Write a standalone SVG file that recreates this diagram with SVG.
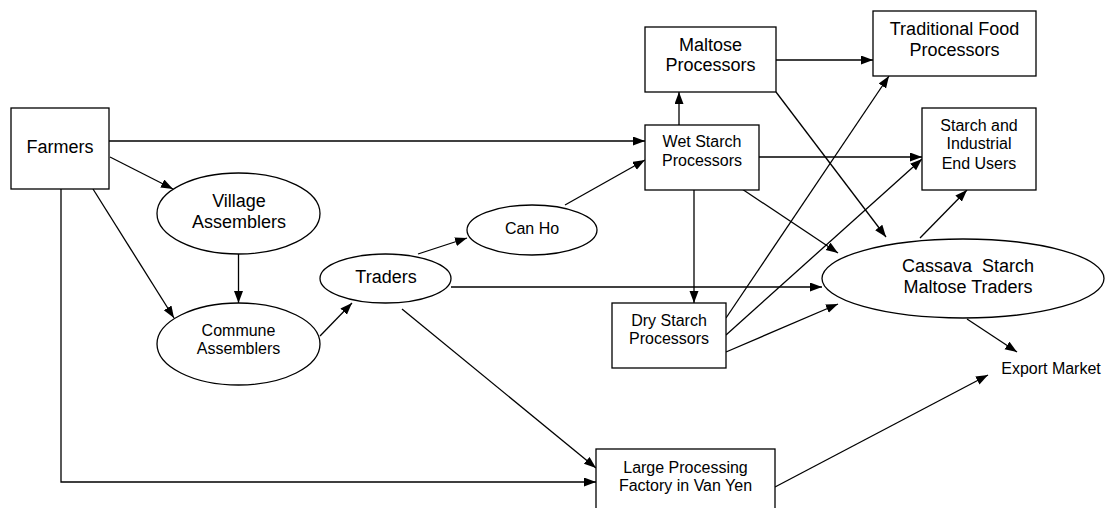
<svg xmlns="http://www.w3.org/2000/svg" width="1107" height="508" viewBox="0 0 1107 508">
<style>
.n{fill:#fff;stroke:#000;stroke-width:1.3}
.t{font-family:"Liberation Sans",Arial,sans-serif;fill:#000;text-anchor:middle}
.l{font-size:18px}
.s{font-size:16px}
.c{fill:none;stroke:#000;stroke-width:1.3}
</style>
<defs>
<marker id="a" markerUnits="userSpaceOnUse" markerWidth="13" markerHeight="10" refX="12" refY="4.5" orient="auto">
<path d="M0,0 L12,4.5 L0,9 z" fill="#000"/>
</marker>
</defs>
<rect width="1107" height="508" fill="#fff"/>
<g id="connectors">
<path class="c" d="M109,141 H645" marker-end="url(#a)"/>
<path class="c" d="M110,157 L173,189" marker-end="url(#a)"/>
<path class="c" d="M93,189 L174,318" marker-end="url(#a)"/>
<path class="c" d="M61,189 V482 H596" marker-end="url(#a)"/>
<path class="c" d="M238.5,254 V303" marker-end="url(#a)"/>
<path class="c" d="M320,336 L352,303" marker-end="url(#a)"/>
<path class="c" d="M418,254 L467,238" marker-end="url(#a)"/>
<path class="c" d="M451,287 H822" marker-end="url(#a)"/>
<path class="c" d="M402,309 L596,468" marker-end="url(#a)"/>
<path class="c" d="M565,205 L645,160" marker-end="url(#a)"/>
<path class="c" d="M679,125 V92" marker-end="url(#a)"/>
<path class="c" d="M776,60 H873" marker-end="url(#a)"/>
<path class="c" d="M776,92 L886,237" marker-end="url(#a)"/>
<path class="c" d="M759,157 H922" marker-end="url(#a)"/>
<path class="c" d="M694,190 V303" marker-end="url(#a)"/>
<path class="c" d="M742,189 L838,253" marker-end="url(#a)"/>
<path class="c" d="M726,318 L889,76" marker-end="url(#a)"/>
<path class="c" d="M726,335 L922,159" marker-end="url(#a)"/>
<path class="c" d="M726,352 L838,304" marker-end="url(#a)"/>
<path class="c" d="M920,238 L967,190" marker-end="url(#a)"/>
<path class="c" d="M967,319 L1017,352" marker-end="url(#a)"/>
<path class="c" d="M775,487 L988,375" marker-end="url(#a)"/>
</g>
<g id="farmers">
<rect class="n" x="11" y="108" width="98" height="81"/>
<text class="t l" x="60" y="153">Farmers</text>
</g>
<g id="village-assemblers">
<ellipse class="n" cx="238.5" cy="213.5" rx="81.5" ry="40.5"/>
<text class="t l" x="239" y="207">Village</text>
<text class="t l" x="239" y="228">Assemblers</text>
</g>
<g id="commune-assemblers">
<ellipse class="n" cx="238.5" cy="344" rx="81.5" ry="41"/>
<text class="t s" x="238.5" y="335.5">Commune</text>
<text class="t s" x="238.5" y="353.5">Assemblers</text>
</g>
<g id="traders">
<ellipse class="n" cx="385.5" cy="278.5" rx="65.5" ry="24.5"/>
<text class="t l" x="386" y="283">Traders</text>
</g>
<g id="can-ho">
<ellipse class="n" cx="532" cy="230" rx="65" ry="25"/>
<text class="t s" x="532" y="233.5">Can Ho</text>
</g>
<g id="wet-starch">
<rect class="n" x="645" y="125" width="114" height="65"/>
<text class="t s" x="702" y="146.5">Wet Starch</text>
<text class="t s" x="702" y="165.5">Processors</text>
</g>
<g id="maltose-processors">
<rect class="n" x="645" y="27" width="131" height="65"/>
<text class="t l" x="710.5" y="51">Maltose</text>
<text class="t l" x="710.5" y="71">Processors</text>
</g>
<g id="traditional-food">
<rect class="n" x="873" y="11" width="163" height="65"/>
<text class="t l" x="954.5" y="35">Traditional Food</text>
<text class="t l" x="954.5" y="56">Processors</text>
</g>
<g id="starch-industrial">
<rect class="n" x="922" y="108" width="114" height="82"/>
<text class="t s" x="979" y="131">Starch and</text>
<text class="t s" x="979" y="149">Industrial</text>
<text class="t s" x="979" y="168.5">End Users</text>
</g>
<g id="cassava-traders">
<ellipse class="n" cx="963" cy="278.5" rx="141" ry="39.5"/>
<text class="t l" x="968" y="272" xml:space="preserve">Cassava  Starch</text>
<text class="t l" x="968" y="293">Maltose Traders</text>
</g>
<g id="dry-starch">
<rect class="n" x="612" y="303" width="114" height="65"/>
<text class="t s" x="669" y="325.5">Dry Starch</text>
<text class="t s" x="669" y="343.5">Processors</text>
</g>
<g id="export-market">
<text class="t s" x="1051" y="373.5">Export Market</text>
</g>
<g id="large-factory">
<rect class="n" x="596" y="449" width="179" height="70"/>
<text class="t s" x="685.5" y="472.5">Large Processing</text>
<text class="t s" x="685.5" y="491">Factory in Van Yen</text>
</g>
</svg>
